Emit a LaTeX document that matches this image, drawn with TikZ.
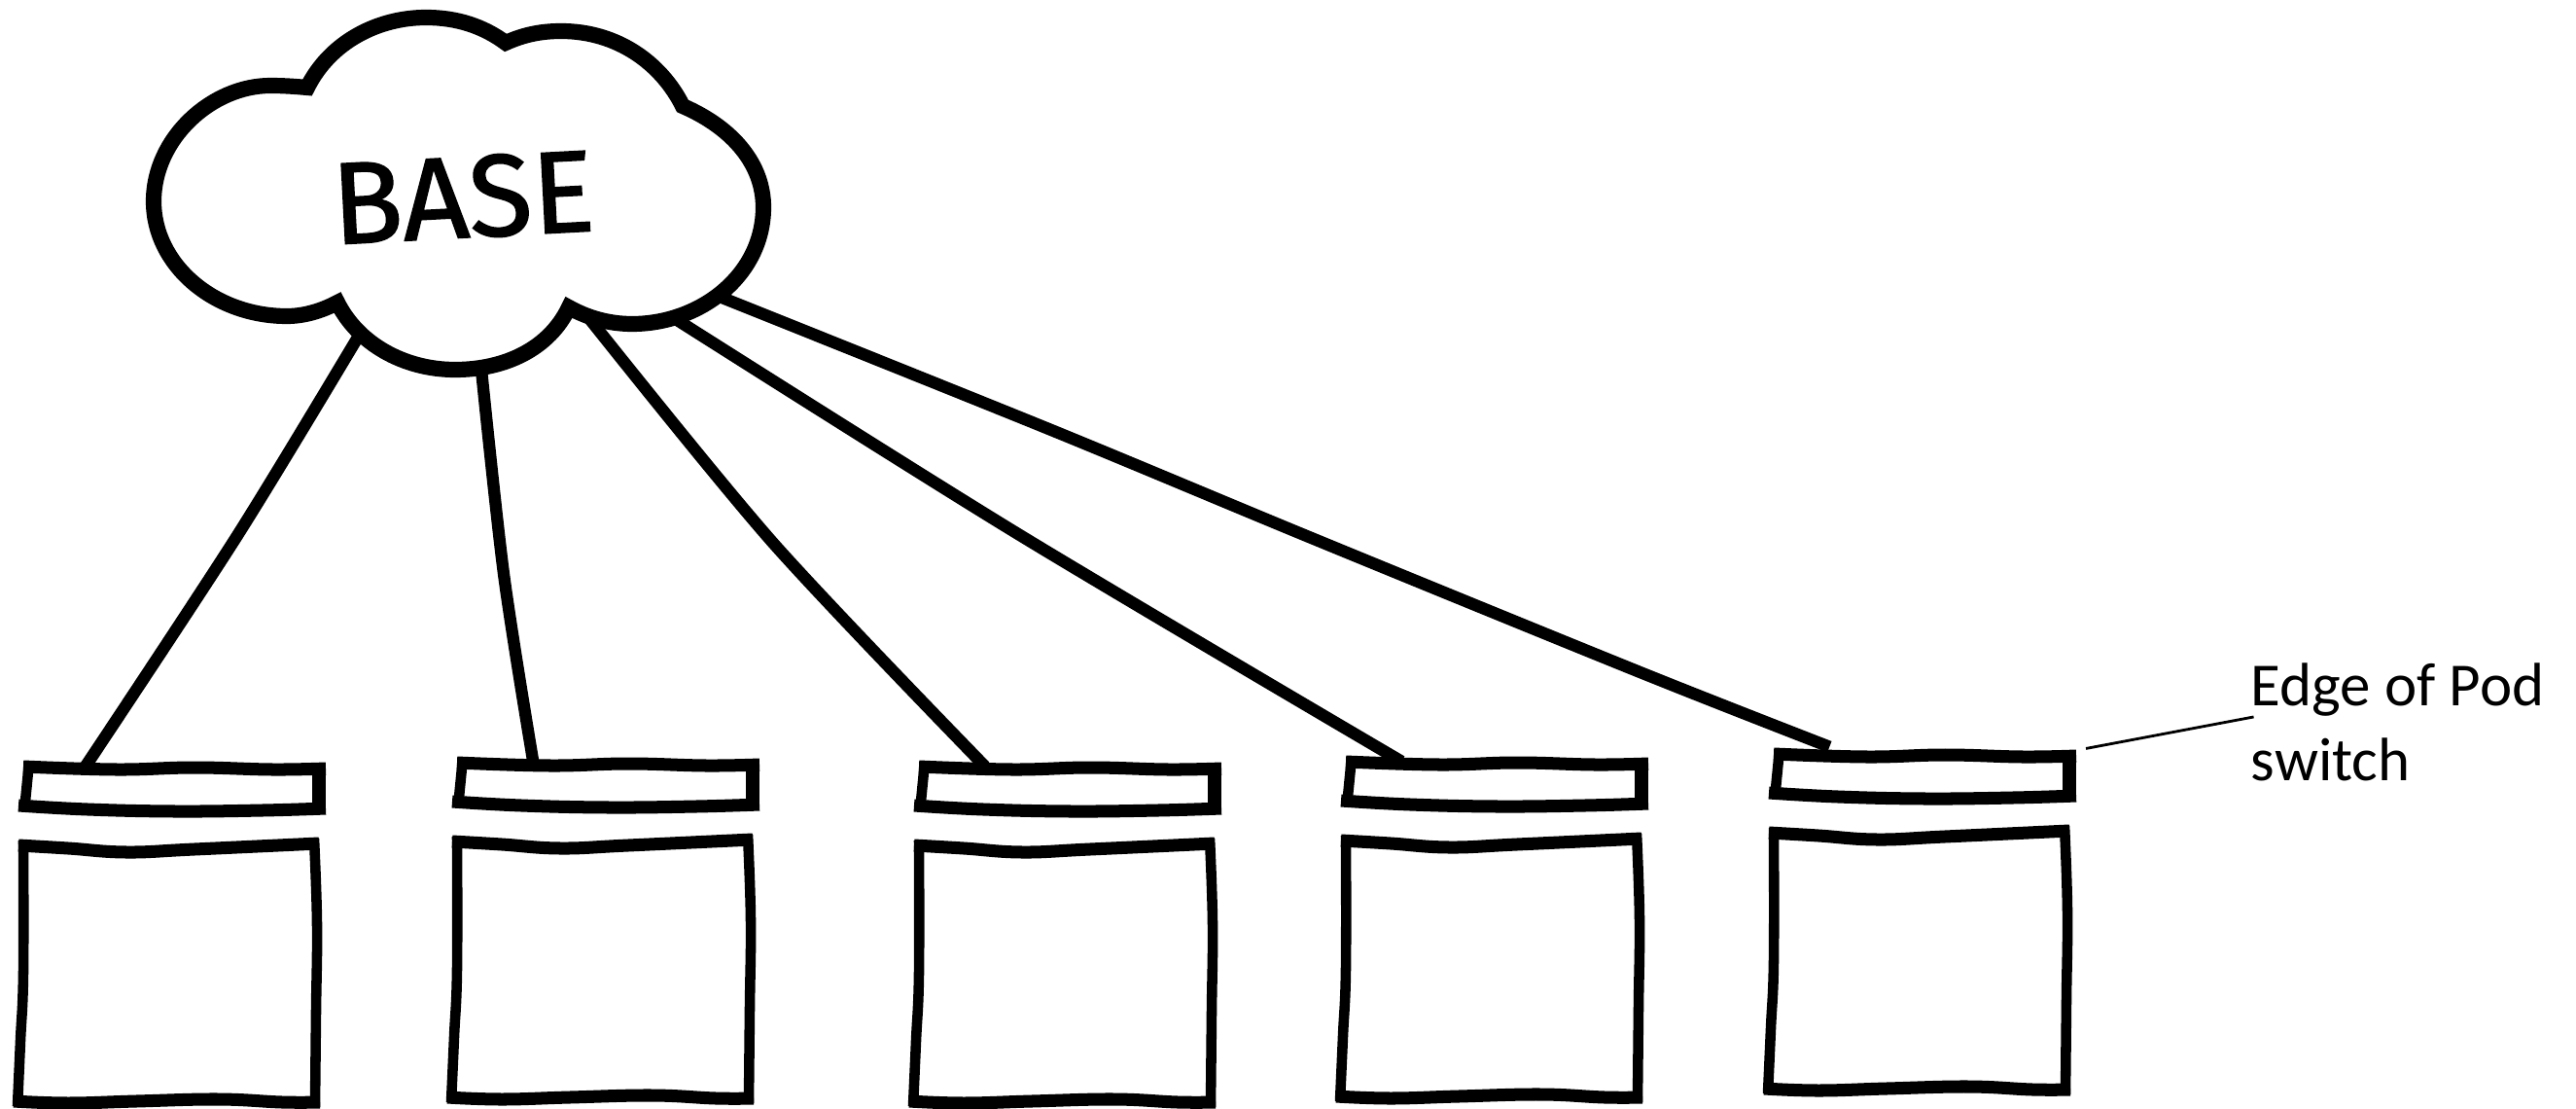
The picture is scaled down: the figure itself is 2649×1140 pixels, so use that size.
\documentclass[tikz,border=0pt]{standalone}
\usepackage{fontspec}
\setmainfont{Carlito}
\newfontfamily\handfont[FakeBold=1.3]{Fira Sans}
\begin{document}
\begin{tikzpicture}[x=0.01cm,y=-0.01cm,
  side/.style={line width=3pt,line cap=butt},
  heavyside/.style={line width=4pt,line cap=butt},
  bar/.style={line width=3.7pt,line cap=butt},
  link/.style={line width=3.5pt,line join=round},
  cloudline/.style={line width=4.6pt,fill=white,line join=miter},
  switchbox/.style={draw=none,inner sep=0pt,minimum width=85.4pt,minimum height=11.7pt},
  rackbox/.style={draw=none,inner sep=0pt,minimum width=85.4pt,minimum height=75pt},
  label/.style={inner sep=0pt,anchor=base west,font=\fontsize{17.9}{22}\selectfont},
  leader/.style={line width=0.8pt},
  wob/.style={smooth,tension=0.7}]
\useasboundingbox (0,0) rectangle (2649,1140);
\newcommand{\pod}[3]{%
  \begin{scope}[shift={(#2,#3)}]
    \node[switchbox] (sw#1) at (178,809) {};
    \node[rackbox] (rack#1) at (172,1000) {};
    \draw[side] (30,783) -- (25,834);
    \draw[heavyside] (328,784) -- (328,836);
    \draw[bar] plot[wob] coordinates {(24,788) (120,791) (200,789) (280,791) (335,790)};
    \draw[bar] plot[wob] coordinates {(19,828) (90,832) (180,834) (270,833) (335,831)};
    \draw[side] plot[wob] coordinates {(24,864) (24,1000) (21,1070) (18,1137)};
    \draw[side] plot[wob] coordinates {(323,862) (326,950) (325,1040) (324,1138)};
    \draw[bar] plot[wob] coordinates {(19,869) (70,872) (130,876) (200,873) (328,867)};
    \draw[bar] plot[wob] coordinates {(14,1132) (70,1134) (140,1132) (225,1130) (290,1133) (329,1133)};
  \end{scope}}
\pod{1}{0}{0}
\pod{2}{446}{-4}
\pod{3}{921}{0}
\pod{4}{1360}{-5}
\pod{5}{1800}{-13}
\coordinate (c1) at (375,335);
\coordinate (c2) at (494,370);
\coordinate (c3) at (600,320);
\coordinate (c4) at (690,325);
\coordinate (c5) at (740,305);
\coordinate (e1) at ([xshift=-25.6pt,yshift=0pt]sw1.north);
\coordinate (e2) at ([xshift=-21.5pt,yshift=0pt]sw2.north);
\coordinate (e3) at ([xshift=-24.5pt,yshift=0pt]sw3.north);
\coordinate (e4) at ([xshift=-27.5pt,yshift=0pt]sw4.north);
\coordinate (e5) at ([xshift=-27.5pt,yshift=2pt]sw5.north);
\draw[link] plot[smooth,tension=0.5] coordinates {(c1) (245,549) (e1)};
\draw[link] plot[smooth,tension=0.5] coordinates {(c2) (518,590) (e2)};
\draw[link] plot[smooth,tension=0.5] coordinates {(c3) (794,557) (e3)};
\draw[link] plot[smooth,tension=0.5] coordinates {(c4) (1047,549) (e4)};
\draw[link] plot[smooth,tension=0.5] coordinates {(c5) (1081,442) (1351,554) (1689,692) (e5)};
\draw[cloudline] (316,90) .. controls (340,42) and (390,18) .. (438,18) .. controls (470,18) and (497,27) .. (520,44)
  .. controls (540,35) and (558,32) .. (577,32) .. controls (635,32) and (680,65) .. (702,109)
  .. controls (755,132) and (785,170) .. (785,213) .. controls (785,283) and (720,333) .. (650,333)
  .. controls (625,333) and (603,326) .. (585,316) .. controls (565,358) and (520,380) .. (468,380)
  .. controls (415,380) and (368,353) .. (347,311) .. controls (330,320) and (312,325) .. (295,325)
  .. controls (220,325) and (158,272) .. (158,207) .. controls (158,142) and (218,88) .. (278,88)
  .. controls (292,88) and (305,89) .. (316,90) -- cycle;
\node[inner sep=0pt,rotate=3,font=\handfont\fontsize{34}{34}\selectfont] (base) at (476,203) {BASE};
\node[label] (lab1) at (2314,725) {Edge of Pod};
\node[label] (lab2) at (2314,802) {switch};
\coordinate (lstart) at ([xshift=4.6pt,yshift=1.5pt]sw5.north east);
\coordinate (lend) at ([xshift=1pt,yshift=-3.4pt]lab1.base west);
\draw[leader] (lend) -- (lstart);
\end{tikzpicture}
\end{document}
